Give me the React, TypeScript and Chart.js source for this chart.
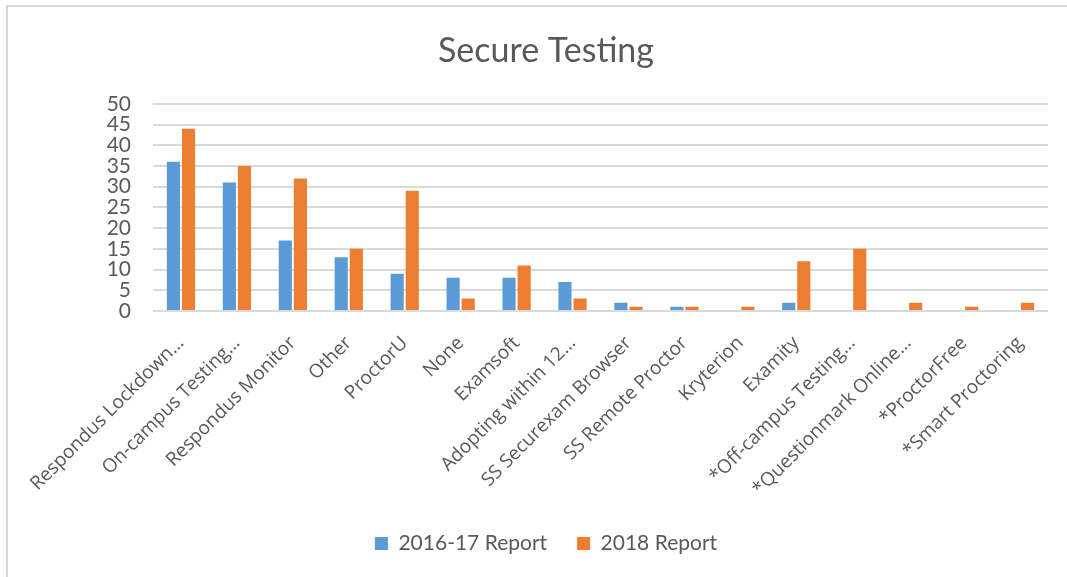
import React, { useEffect, useRef } from "react";
import { Chart, registerables } from "chart.js";

Chart.register(...registerables);

const categories = [
  "Respondus Lockdown…",
  "On-campus Testing…",
  "Respondus Monitor",
  "Other",
  "ProctorU",
  "None",
  "Examsoft",
  "Adopting within 12…",
  "SS Securexam Browser",
  "SS Remote Proctor",
  "Kryterion",
  "Examity",
  "*Off-campus Testing…",
  "*Questionmark Online…",
  "*ProctorFree",
  "*Smart Proctoring",
];

const report2016 = [36, 31, 17, 13, 9, 8, 8, 7, 2, 1, 0, 2, 0, 0, 0, 0];
const report2018 = [44, 35, 32, 15, 29, 3, 11, 3, 1, 1, 1, 12, 15, 2, 1, 2];

const seriesNames = ["2016-17 Report", "2018 Report"];
const chartTitle = "Secure Testing";

export default function App() {
  const canvasRef = useRef<HTMLCanvasElement | null>(null);

  useEffect(() => {
    if (!canvasRef.current) return;
    const chart = new Chart(canvasRef.current, {
      type: "bar",
      data: {
        labels: categories,
        datasets: [
          {
            label: seriesNames[0],
            data: report2016,
            backgroundColor: "#5B9BD5",
            barPercentage: 0.87,
            categoryPercentage: 0.54,
          },
          {
            label: seriesNames[1],
            data: report2018,
            backgroundColor: "#ED7D31",
            barPercentage: 0.87,
            categoryPercentage: 0.54,
          },
        ],
      },
      options: {
        responsive: false,
        animation: false,
        layout: { padding: { left: 44, right: 19, top: 0, bottom: 13 } },
        plugins: {
          title: {
            display: true,
            text: chartTitle,
            color: "#595959",
            font: { family: "Lato", size: 34, weight: "normal" },
            padding: { top: 31, bottom: 32 },
          },
          legend: {
            position: "bottom",
            labels: {
              color: "#595959",
              font: { family: "Lato", size: 21 },
              boxWidth: 13,
              boxHeight: 13,
              padding: 30,
            },
          },
          tooltip: { enabled: false },
        },
        scales: {
          x: {
            grid: { display: false },
            border: { display: false },
            ticks: {
              color: "#595959",
              font: { family: "Open Sans", size: 19 },
              minRotation: 45,
              maxRotation: 45,
              autoSkip: false,
              padding: 13,
              labelOffset: 0,
            },
            afterFit: (scale: any) => {
              scale.height = 192;
            },
          },
          y: {
            min: 0,
            max: 50,
            grid: { color: "#d9d9d9", lineWidth: 2, drawTicks: false },
            border: { display: false },
            ticks: {
              stepSize: 5,
              autoSkip: false,
              color: "#595959",
              font: { family: "Lato", size: 21 },
              padding: 22,
            },
            afterFit: (scale: any) => {
              scale.width = 109;
            },
          },
        },
      },
    });
    return () => chart.destroy();
  }, []);

  return (
    <div
      style={{
        position: "fixed",
        left: 0,
        top: 0,
        width: 1067,
        height: 577,
        overflow: "hidden",
        background: "#fff",
      }}
    >
      <div
        style={{
          position: "absolute",
          left: 6,
          top: 5,
          width: 1100,
          height: 600,
          border: "2px solid #d9d9d9",
          boxSizing: "border-box",
        }}
      />
      <canvas
        ref={canvasRef}
        width={1067}
        height={577}
        style={{ position: "absolute", left: 0, top: 0, width: 1067, height: 577 }}
      />
    </div>
  );
}
